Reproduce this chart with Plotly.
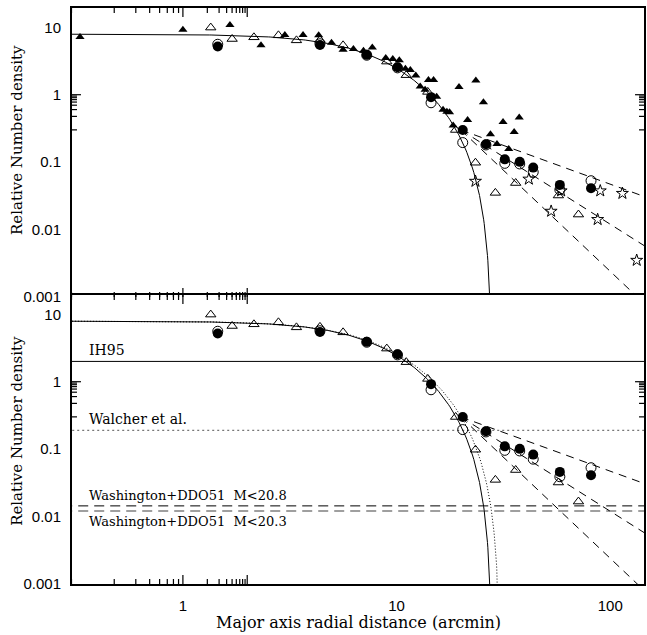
import numpy as np
import plotly.graph_objects as go
from plotly.subplots import make_subplots

# ---- measured surface density profiles (radius in arcmin) ----
tri_filled_r = [0.33, 1.0, 1.66, 2.32, 3.0, 3.65, 4.32, 4.96, 5.62, 6.28, 7.0, 7.7,
                8.9, 9.6, 10.3, 11.0, 11.6, 12.3, 12.9, 13.6, 14.1, 14.9, 15.4,
                16.5, 17.2, 17.7, 18.4, 19.6, 21.5, 23.5, 25.5, 27.5, 29.5, 31.5,
                33.5, 35.5, 37.5]
tri_filled_n = [7.2, 9.2, 10.8, 5.4, 7.7, 7.7, 7.6, 5.9, 4.66, 4.77, 4.5, 5.0,
                3.5, 3.38, 3.25, 2.43, 2.33, 1.93, 1.32, 1.18, 1.65, 1.65, 0.93,
                0.6, 0.56, 0.55, 0.35, 1.30, 0.42, 1.63, 0.77, 0.26, 0.186, 0.395,
                0.157, 0.28, 0.46]

tri_open_r = [1.35, 1.70, 2.15, 2.80, 3.40, 4.38, 5.62, 9.0, 11.1, 14.0, 18.9,
              23.4, 29.0, 36.1, 57.2, 71.0]
tri_open_n = [9.9, 6.7, 7.1, 7.6, 6.4, 6.5, 5.4, 3.1, 1.95, 1.1, 0.30,
              0.098, 0.035, 0.049, 0.032, 0.0167]

circ_r = [1.456, 4.38, 7.25, 10.1, 14.5, 20.4, 26.2, 32.1, 37.7, 43.6, 58.1, 81.3]
circ_filled_n = [5.2, 5.45, 3.9, 2.55, 0.92, 0.30, 0.184, 0.110, 0.101, 0.083, 0.046, 0.041]
circ_open_n = [5.6, 5.7, 3.85, 2.5, 0.76, 0.195, 0.18, 0.096, 0.094, 0.071, 0.039, 0.053]

star_r = [23.4, 41.6, 52.9, 58.9, 87.3, 89.8, 114.0, 133.0]
star_n = [0.052, 0.056, 0.0187, 0.0375, 0.0141, 0.0375, 0.0344, 0.0035]

# ---- King model fits: central density, core radius, tidal radius ----
king_solid = dict(n0=7.9, rc=10.0, rt=28.0)
king_dotted = dict(n0=7.9, rc=10.0, rt=30.5)

# ---- power-law extra-tidal components: anchor radius/density and slopes ----
tail_r0 = 20.0
tail_n0 = 0.30
tail_slopes = [-1.15, -2.0, -3.0]

# ---- background levels ----
bg_levels = [2.0, 0.19, 0.0144, 0.0121]
bg_labels = ["IH95", "Walcher et al.",
             "Washington+DDO51\u00a0\u00a0M<20.8", "Washington+DDO51\u00a0\u00a0M<20.3"]
bg_label_sizes = [14, 14, 13, 13]

# ---- tick positions ----
x_major = [1, 10, 100]
x_minor = [m * d for d in (0.1, 1, 10, 100) for m in range(2, 10)]
y_major = [0.001, 0.01, 0.1, 1, 10]
y_minor = [m * d for d in (0.001, 0.01, 0.1, 1, 10) for m in range(2, 10)]
y_ticktext = ["0.001", "0.01", "0.1", "1", "10"]

X_RANGE = [-0.519, 2.158]
Y_RANGE = [-3.0, 1.286]
R_MIN, R_MAX = 10 ** X_RANGE[0], 10 ** X_RANGE[1]
N_MIN, N_MAX = 10 ** Y_RANGE[0], 10 ** Y_RANGE[1]

FIG_W, FIG_H = 647, 635
MARGIN = dict(l=72, r=1, t=8, b=51)
PANEL_W = FIG_W - MARGIN["l"] - MARGIN["r"]
PANEL_H = (FIG_H - MARGIN["t"] - MARGIN["b"]) / 2
MAJOR_LEN, MINOR_LEN = 9, 5


def king(r, n0, rc, rt):
    c = 1.0 / np.sqrt(1.0 + (rt / rc) ** 2)
    k = n0 / (1.0 - c) ** 2
    v = k * (1.0 / np.sqrt(1.0 + (r / rc) ** 2) - c) ** 2
    return np.where(r < rt, v, np.nan)


def king_curve(p):
    r = np.unique(np.concatenate([
        np.geomspace(R_MIN, p["rt"], 300),
        p["rt"] * (1.0 - np.geomspace(0.3, 1e-8, 200)),
    ]))
    r = r[r < p["rt"]]
    return r, king(r, **p)


SERIF = "DejaVu Serif"
SANS = "Liberation Sans"

fig = make_subplots(rows=2, cols=1, shared_xaxes=True, vertical_spacing=0)

tri_mk = dict(symbol="triangle-up", size=8, color="black")
tri_open_mk = dict(symbol="triangle-up-open", size=9, color="black", line=dict(width=1))
circ_mk = dict(symbol="circle", size=10, color="black")
circ_open_mk = dict(symbol="circle-open", size=10, color="black", line=dict(width=1))
star_mk = dict(symbol="star-open", size=9, color="black", line=dict(width=1))


def add_common(row, stars_and_filled):
    # King model
    r, n = king_curve(king_solid)
    fig.add_trace(go.Scatter(x=r, y=n, mode="lines",
                             line=dict(color="black", width=1)), row=row, col=1)
    # power-law tails
    rr = np.geomspace(tail_r0, R_MAX * 1.05, 60)
    for s in tail_slopes:
        fig.add_trace(go.Scatter(x=rr, y=tail_n0 * (rr / tail_r0) ** s, mode="lines",
                                 line=dict(color="black", width=1, dash="8px,6px")),
                      row=row, col=1)
    if stars_and_filled:
        fig.add_trace(go.Scatter(x=tri_filled_r, y=tri_filled_n, mode="markers",
                                 marker=tri_mk), row=row, col=1)
    fig.add_trace(go.Scatter(x=tri_open_r, y=tri_open_n, mode="markers",
                             marker=tri_open_mk), row=row, col=1)
    fig.add_trace(go.Scatter(x=circ_r, y=circ_open_n, mode="markers",
                             marker=circ_open_mk), row=row, col=1)
    fig.add_trace(go.Scatter(x=circ_r, y=circ_filled_n, mode="markers",
                             marker=circ_mk), row=row, col=1)
    if stars_and_filled:
        fig.add_trace(go.Scatter(x=star_r, y=star_n, mode="markers",
                                 marker=star_mk), row=row, col=1)


def add_frame_ticks(row):
    # inward tick marks on all four sides of a panel
    sfx = "" if row == 1 else "2"
    xr, yr = "x" + sfx, "y" + sfx
    tick_line = dict(color="black", width=1.2)
    for vals, length in ((x_major, MAJOR_LEN), (x_minor, MINOR_LEN)):
        f = length / PANEL_H
        for v in vals:
            if not R_MIN < v < R_MAX:
                continue
            lv = np.log10(v)
            for y0, y1 in ((0, f), (1, 1 - f)):
                fig.add_shape(type="line", xref=xr, yref=yr + " domain",
                              x0=lv, x1=lv, y0=y0, y1=y1, line=tick_line)
    for vals, length in ((y_major, MAJOR_LEN), (y_minor, MINOR_LEN)):
        f = length / PANEL_W
        for v in vals:
            if not N_MIN <= v < N_MAX:
                continue
            lv = np.log10(v)
            for x0, x1 in ((0, f), (1, 1 - f)):
                fig.add_shape(type="line", xref=xr + " domain", yref=yr,
                              x0=x0, x1=x1, y0=lv, y1=lv, line=tick_line)


add_common(1, True)

# bottom panel: background levels and alternative King fit
bg_styles = [dict(color="black", width=1),
             dict(color="#777777", width=1.3, dash="2px,3px"),
             dict(color="black", width=1, dash="10px,6px"),
             dict(color="#808080", width=1.6, dash="10px,6px")]
for lvl, st in zip(bg_levels, bg_styles):
    fig.add_trace(go.Scatter(x=[R_MIN * 0.9, R_MAX * 1.1], y=[lvl, lvl], mode="lines",
                             line=st), row=2, col=1)

r, n = king_curve(king_dotted)
fig.add_trace(go.Scatter(x=r, y=n, mode="lines",
                         line=dict(color="black", width=1, dash="1px,2px")), row=2, col=1)
add_common(2, False)

add_frame_ticks(1)
add_frame_ticks(2)

for lvl, lab, fs, anchor in zip(bg_levels, bg_labels, bg_label_sizes,
                                ["bottom", "bottom", "bottom", "top"]):
    fig.add_annotation(xref="x2 domain", yref="y2", x=0.026, y=np.log10(lvl),
                       text=lab, showarrow=False, xanchor="left", yanchor=anchor,
                       yshift=1 if anchor == "bottom" else -1,
                       font=dict(family=SERIF, size=fs, color="black"))

# axes
axis_common = dict(type="log", showline=True, linewidth=2, linecolor="black",
                   mirror=True, ticks="", showgrid=False, zeroline=False,
                   tickfont=dict(family=SANS, size=15, color="black"))

for row in (1, 2):
    fig.update_xaxes(range=X_RANGE, showticklabels=(row == 2),
                     tickvals=x_major, ticktext=[str(v) for v in x_major],
                     ticklabelstandoff=7,
                     row=row, col=1, **axis_common)
    fig.update_yaxes(range=Y_RANGE, tickvals=y_major, ticktext=y_ticktext,
                     ticklabelstandoff=6,
                     row=row, col=1, **axis_common)

# panels meet on a single shared frame line
px_frac = 1.0 / (2 * PANEL_H)
fig.update_yaxes(domain=[0.5 - px_frac, 1.0], row=1, col=1)
fig.update_yaxes(domain=[0.0, 0.5 + px_frac], row=2, col=1)

# axis titles
for yc in (0.771, 0.266):
    fig.add_annotation(xref="paper", yref="paper", x=-0.096, y=yc,
                       text="Relative Number density", textangle=-90, showarrow=False,
                       xanchor="center", yanchor="middle",
                       font=dict(family=SERIF, size=15, color="black"))
fig.add_annotation(xref="paper", yref="paper", x=0.5, y=-0.066,
                   text="Major axis radial distance (arcmin)", showarrow=False,
                   xanchor="center", yanchor="middle",
                   font=dict(family=SERIF, size=16, color="black"))

fig.update_layout(width=FIG_W, height=FIG_H, showlegend=False, margin=MARGIN,
                  plot_bgcolor="white", paper_bgcolor="white")

fig.write_html("out.html")
